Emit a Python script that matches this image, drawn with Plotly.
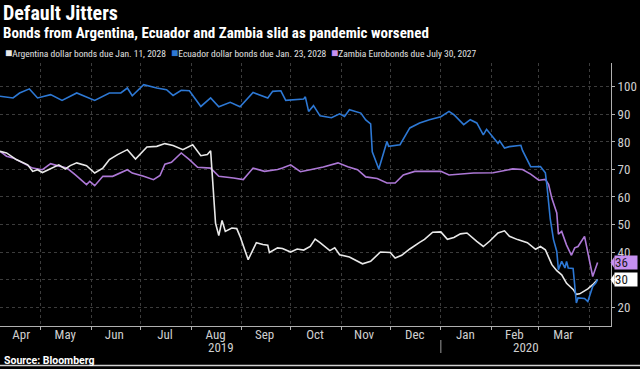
import plotly.graph_objects as go

# ---------------- data ----------------
arg_dates = ["2019-04-06", "2019-04-10", "2019-04-16", "2019-04-23", "2019-04-26", "2019-04-29", "2019-05-02",
             "2019-05-08", "2019-05-12", "2019-05-16", "2019-05-19", "2019-05-23", "2019-05-29", "2019-06-03",
             "2019-06-08", "2019-06-12", "2019-06-17", "2019-06-23", "2019-06-28", "2019-07-05", "2019-07-11",
             "2019-07-16", "2019-07-21", "2019-07-27", "2019-08-02", "2019-08-07", "2019-08-11", "2019-08-13",
             "2019-08-16", "2019-08-18", "2019-08-20", "2019-08-22", "2019-08-26", "2019-08-29", "2019-08-31",
             "2019-09-05", "2019-09-10", "2019-09-14", "2019-09-17", "2019-09-18", "2019-09-23", "2019-09-26",
             "2019-10-01", "2019-10-05", "2019-10-09", "2019-10-13", "2019-10-16", "2019-10-19", "2019-10-25",
             "2019-10-28", "2019-10-31", "2019-11-06", "2019-11-14", "2019-11-19", "2019-11-25", "2019-12-01",
             "2019-12-04", "2019-12-08", "2019-12-13", "2019-12-19", "2019-12-22", "2019-12-27", "2020-01-01",
             "2020-01-05", "2020-01-09", "2020-01-13", "2020-01-17", "2020-01-23", "2020-01-27", "2020-01-31",
             "2020-02-05", "2020-02-09", "2020-02-12", "2020-02-17", "2020-02-23", "2020-02-28", "2020-03-02",
             "2020-03-05", "2020-03-09", "2020-03-12", "2020-03-15", "2020-03-18", "2020-03-22", "2020-03-24",
             "2020-03-26", "2020-03-31", "2020-04-03", "2020-04-06"]
arg_values = [76.6, 76.0, 73.6, 71.7, 69.3, 69.9, 68.9,
              70.5, 71.7, 70.2, 71.4, 72.4, 71.4, 68.7,
              70.5, 73.6, 75.4, 77.2, 73.8, 78.2, 78.4,
              79.4, 78.7, 77.2, 79.0, 75.0, 75.4, 76.8,
              50.5, 46.0, 51.5, 47.5, 48.7, 48.5, 45.7,
              37.2, 43.4, 42.7, 42.5, 39.8, 41.5, 41.3,
              40.0, 41.1, 40.7, 42.0, 44.7, 43.4, 40.5,
              41.5, 39.0, 38.2, 35.7, 36.6, 40.0, 39.8,
              37.8, 38.8, 41.1, 43.5, 44.6, 47.2, 47.3,
              44.6, 45.3, 46.6, 46.9, 43.9, 42.0, 44.0,
              46.9, 47.7, 45.7, 44.5, 43.4, 41.0, 42.0,
              40.8, 35.4, 33.2, 31.7, 28.6, 26.4, 24.6,
              24.8, 26.6, 28.1, 30.0]

ecu_dates = ["2019-04-06", "2019-04-14", "2019-04-18", "2019-04-24", "2019-04-29", "2019-05-07", "2019-05-14",
             "2019-05-23", "2019-06-03", "2019-06-12", "2019-06-19", "2019-06-23", "2019-06-26", "2019-07-03",
             "2019-07-11", "2019-07-17", "2019-07-21", "2019-07-26", "2019-07-31", "2019-08-07", "2019-08-13",
             "2019-08-18", "2019-08-25", "2019-08-31", "2019-09-08", "2019-09-14", "2019-09-17", "2019-09-20",
             "2019-09-25", "2019-09-28", "2019-10-09", "2019-10-10", "2019-10-12", "2019-10-15", "2019-10-19",
             "2019-10-26", "2019-10-31", "2019-11-03", "2019-11-06", "2019-11-13", "2019-11-16", "2019-11-19",
             "2019-11-20", "2019-11-24", "2019-11-29", "2019-11-30", "2019-12-07", "2019-12-13", "2019-12-19",
             "2019-12-25", "2020-01-01", "2020-01-06", "2020-01-09", "2020-01-15", "2020-01-19", "2020-01-23",
             "2020-01-27", "2020-01-29", "2020-02-05", "2020-02-06", "2020-02-09", "2020-02-12", "2020-02-19",
             "2020-02-20", "2020-02-25", "2020-03-02", "2020-03-05", "2020-03-06", "2020-03-08", "2020-03-10",
             "2020-03-12", "2020-03-13", "2020-03-15", "2020-03-17", "2020-03-18", "2020-03-19", "2020-03-22",
             "2020-03-24", "2020-03-25", "2020-03-29", "2020-03-31", "2020-04-03", "2020-04-05", "2020-04-06"]
ecu_values = [96.6, 96.0, 97.8, 99.3, 96.0, 97.2, 95.1,
              97.8, 95.1, 97.8, 97.8, 99.6, 96.8, 100.8,
              99.6, 99.0, 96.9, 98.8, 98.6, 92.9, 96.0,
              92.8, 94.4, 92.8, 98.0, 96.8, 96.0, 98.4,
              98.6, 95.1, 95.6, 96.4, 91.1, 93.2, 89.5,
              88.8, 90.2, 89.3, 91.7, 90.5, 88.0, 86.6,
              76.4, 70.2, 80.2, 78.4, 79.0, 85.1, 86.9,
              88.1, 89.2, 91.1, 89.9, 86.3, 88.1, 86.9,
              82.6, 84.6, 79.5, 80.4, 77.8, 78.3, 78.8,
              76.9, 71.0, 71.1, 68.8, 64.0, 52.0, 44.5,
              40.2, 33.6, 36.6, 34.2, 36.6, 34.2, 34.0,
              21.5, 23.3, 23.1, 22.0, 27.5, 28.8, 30.0]

zam_dates = ["2019-04-06", "2019-04-10", "2019-04-14", "2019-04-20", "2019-04-26", "2019-05-02", "2019-05-07",
             "2019-05-11", "2019-05-17", "2019-05-22", "2019-05-29", "2019-05-31", "2019-06-03", "2019-06-08",
             "2019-06-14", "2019-06-23", "2019-06-26", "2019-07-03", "2019-07-09", "2019-07-13", "2019-07-16",
             "2019-07-20", "2019-07-26", "2019-07-31", "2019-08-05", "2019-08-13", "2019-08-18", "2019-08-27",
             "2019-09-02", "2019-09-08", "2019-09-15", "2019-09-23", "2019-09-26", "2019-10-01", "2019-10-07",
             "2019-10-13", "2019-10-21", "2019-10-30", "2019-11-05", "2019-11-11", "2019-11-16", "2019-11-23",
             "2019-11-29", "2019-12-04", "2019-12-09", "2019-12-16", "2020-01-01", "2020-01-06", "2020-01-13",
             "2020-01-21", "2020-02-02", "2020-02-14", "2020-02-20", "2020-02-25", "2020-03-01", "2020-03-05",
             "2020-03-07", "2020-03-09", "2020-03-12", "2020-03-13", "2020-03-15", "2020-03-18", "2020-03-21",
             "2020-03-23", "2020-03-25", "2020-03-29", "2020-04-03", "2020-04-06"]
zam_values = [76.6, 74.8, 74.2, 72.4, 70.5, 69.9, 72.1,
              71.4, 70.5, 68.1, 64.5, 65.7, 64.1, 67.5,
              67.5, 69.9, 68.7, 67.5, 66.3, 67.8, 71.9,
              72.6, 76.0, 73.6, 70.8, 70.5, 67.5, 66.9,
              66.3, 70.5, 69.3, 70.0, 70.5, 71.7, 69.2,
              69.9, 70.9, 72.4, 71.0, 69.9, 67.3, 66.7,
              65.1, 65.1, 68.0, 69.3, 69.3, 68.0, 68.3,
              68.7, 68.8, 70.2, 70.0, 68.3, 66.1, 66.4,
              64.5, 59.5, 54.2, 46.5, 47.5, 42.5, 38.8,
              41.5, 42.0, 45.7, 31.1, 36.2]

series_names = ["Argentina dollar bonds due Jan. 11, 2028",
                "Ecuador dollar bonds due Jan. 23, 2028",
                "Zambia Eurobonds due July 30, 2027"]

month_label_dates = ["2019-04-19", "2019-05-16", "2019-06-15", "2019-07-16", "2019-08-16", "2019-09-15",
                     "2019-10-16", "2019-11-15", "2019-12-16", "2020-01-16", "2020-02-15", "2020-03-16"]
month_labels = ["Apr", "May", "Jun", "Jul", "Aug", "Sep", "Oct", "Nov", "Dec", "Jan", "Feb", "Mar"]
month_starts = ["2019-05-01", "2019-06-01", "2019-07-01", "2019-08-01", "2019-09-01", "2019-10-01",
                "2019-11-01", "2019-12-01", "2020-01-01", "2020-02-01", "2020-03-01", "2020-04-01"]
y_ticks = [20, 30, 40, 50, 60, 70, 80, 90, 100]

# ---------------- style ----------------
C_ARG = "#e8e8e8"
C_ECU = "#2d78d4"
C_ZAM = "#ad78d6"
C_ZAM_BOX = "#c690f0"
FONT = "Roboto Condensed, Lato, Roboto, sans-serif"
TICK_C = "#cfcfcf"
GRID_C = "#3c3c3c"

W, H = 640, 369
ML, MR, MT, MB = 0, 29, 63, 43
PW, PH = W - ML - MR, H - MT - MB


def px(xp):
    return (xp - ML) / PW


def py(yp):
    return (H - MB - yp) / PH


fig = go.Figure()
fig.add_trace(go.Scatter(x=zam_dates, y=zam_values, mode="lines", name=series_names[2],
                         line=dict(color=C_ZAM, width=1.6)))
fig.add_trace(go.Scatter(x=arg_dates, y=arg_values, mode="lines", name=series_names[0],
                         line=dict(color=C_ARG, width=1.6)))
fig.add_trace(go.Scatter(x=ecu_dates, y=ecu_values, mode="lines", name=series_names[1],
                         line=dict(color=C_ECU, width=1.6)))

fig.update_layout(
    width=W, height=H,
    margin=dict(l=ML, r=MR, t=MT, b=MB),
    paper_bgcolor="#000000", plot_bgcolor="#000000",
    showlegend=False,
    font=dict(family=FONT, color=TICK_C, size=12),
)

fig.update_xaxes(
    type="date",
    range=["2019-04-06", "2020-04-14 05:00"],
    tickmode="array", tickvals=month_label_dates, ticktext=month_labels,
    ticks="", showgrid=False,
    showline=True, linecolor="#b0b0b0", linewidth=1,
    tickfont=dict(family=FONT, size=13, color=TICK_C),
    minor=dict(tickmode="array", tickvals=month_starts, ticks="outside", ticklen=3,
               tickcolor="#b0b0b0", showgrid=True, gridcolor=GRID_C, griddash="dot", gridwidth=1),
    zeroline=False,
)
try:
    fig.update_xaxes(ticklabelstandoff=-4)
except Exception:
    pass
fig.update_yaxes(
    range=[13.1, 108.7], side="right",
    tickmode="array", tickvals=y_ticks,
    ticks="outside", ticklen=3, tickcolor="#b0b0b0",
    showgrid=True, gridcolor=GRID_C, griddash="dot", gridwidth=1,
    showline=True, linecolor="#b0b0b0", linewidth=1,
    tickfont=dict(family=FONT, size=13, color=TICK_C),
    zeroline=False,
)

ann = []
ann.append(dict(text="<b>Default Jitters</b>", x=px(1), y=py(13), xref="paper", yref="paper",
                xanchor="left", yanchor="middle", showarrow=False,
                font=dict(family=FONT, size=20, color="#ffffff")))
ann.append(dict(text="<b>Bonds from Argentina, Ecuador and Zambia slid as pandemic worsened</b>",
                x=px(1), y=py(33), xref="paper", yref="paper", xanchor="left", yanchor="middle",
                showarrow=False, font=dict(family=FONT, size=15, color="#ffffff")))
for xp, col, name in [(3, C_ARG, series_names[0]), (169, C_ECU, series_names[1]), (329, C_ZAM_BOX, series_names[2])]:
    ann.append(dict(text=f"<span style='color:{col};font-size:12px'>■</span>{name}", x=px(xp), y=py(53),
                    xref="paper", yref="paper", xanchor="left", yanchor="middle", showarrow=False,
                    font=dict(family=FONT, size=9.5, color="#e0e0e0")))
ann.append(dict(text="<b>Source: Bloomberg</b>", x=px(2), y=py(360), xref="paper", yref="paper",
                xanchor="left", yanchor="middle", showarrow=False,
                font=dict(family="Roboto, sans-serif", size=10.5, color="#ffffff")))
for xp, yr in [(221, "2019"), (526, "2020")]:
    ann.append(dict(text=yr, x=px(xp), y=py(347), xref="paper", yref="paper",
                    xanchor="center", yanchor="middle", showarrow=False,
                    font=dict(family=FONT, size=13, color=TICK_C)))
# last-value labels
for val, bg in [(zam_values[-1], C_ZAM_BOX), (arg_values[-1], "#ffffff")]:
    ann.append(dict(text=f"{val:.0f}", x=px(614), y=val, xref="paper", yref="y",
                    xanchor="left", yanchor="middle", showarrow=False, bgcolor=bg,
                    borderpad=0, width=22, height=13, align="left",
                    font=dict(family=FONT, size=13, color="#1a1a1a")))
fig.update_layout(annotations=ann)

shapes = []
for val, bg in [(zam_values[-1], C_ZAM_BOX), (arg_values[-1], "#ffffff")]:
    shapes.append(dict(type="path", xref="paper", yref="y",
                       path=f"M {px(610.5)},{val} L {px(614.5)},{val + 2.2} L {px(614.5)},{val - 2.2} Z",
                       fillcolor=bg, line=dict(width=0)))
shapes.append(dict(type="line", xref="x", yref="paper", x0="2020-01-01", x1="2020-01-01",
                   y0=py(340), y1=py(353), line=dict(color="#9a9a9a", width=1)))
shapes.append(dict(type="line", xref="paper", yref="paper", x0=px(0), x1=px(640),
                   y0=py(365.5), y1=py(365.5), line=dict(color="#cfcfcf", width=1.5)))
fig.update_layout(shapes=shapes)

fig.write_html("out.html", config={"displayModeBar": False},
               post_script="document.body.style.margin='0';document.body.style.padding='0';")
